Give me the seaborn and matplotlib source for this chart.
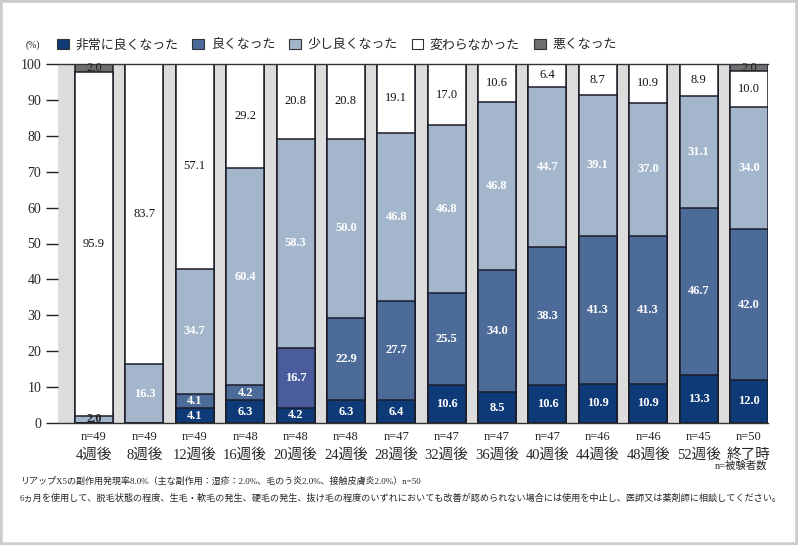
import numpy as np
import matplotlib
matplotlib.use('Agg')
import matplotlib.pyplot as plt
from matplotlib.patches import Patch, Rectangle
import seaborn as sns

sns.set_style('white')
plt.rcParams['font.family'] = ['Liberation Serif', 'Noto Sans CJK JP']

weeks = ['4週後', '8週後', '12週後', '16週後', '20週後', '24週後', '28週後',
         '32週後', '36週後', '40週後', '44週後', '48週後', '52週後', '終了時']
n_subjects = [49, 49, 49, 48, 48, 48, 47, 47, 47, 47, 46, 46, 45, 50]

categories = ['非常に良くなった', '良くなった', '少し良くなった', '変わらなかった', '悪くなった']
very_good = [0, 0, 4.1, 6.3, 4.2, 6.3, 6.4, 10.6, 8.5, 10.6, 10.9, 10.9, 13.3, 12.0]
good = [0, 0, 4.1, 4.2, 16.7, 22.9, 27.7, 25.5, 34.0, 38.3, 41.3, 41.3, 46.7, 42.0]
little_good = [2.0, 16.3, 34.7, 60.4, 58.3, 50.0, 46.8, 46.8, 46.8, 44.7, 39.1, 37.0, 31.1, 34.0]
no_change = [95.9, 83.7, 57.1, 29.2, 20.8, 20.8, 19.1, 17.0, 10.6, 6.4, 8.7, 10.9, 8.9, 10.0]
worse = [2.0, 0, 0, 0, 0, 0, 0, 0, 0, 0, 0, 0, 0, 2.0]

colors = ['#0e3a78', '#4d6b99', '#a3b6cc', '#ffffff', '#6f6f6f']
text_colors = ['white', 'white', 'white', '#111111', '#111111']
edge = '#1c1c28'

series = [very_good, good, little_good, no_change, worse]
cum = np.cumsum(np.array(series), axis=0)

fig = plt.figure(figsize=(7.98, 5.45), dpi=100)
ax = fig.add_axes([58 / 798, 1 - 423 / 545, 710 / 798, 359 / 545])
ax.set_facecolor('#dcdcdc')

# stacked bars: draw cumulative totals from top layer down
for k in range(len(series) - 1, -1, -1):
    pal = [colors[k]] * len(weeks)
    if k == 1:
        pal[weeks.index('20週後')] = '#4a5c9c'
    sns.barplot(x=weeks, y=cum[k], hue=weeks, palette=pal, legend=False,
                width=0.754, edgecolor=edge, linewidth=1.1, saturation=1,
                ax=ax)

for k, vals in enumerate(series):
    for i, v in enumerate(vals):
        if v <= 0:
            continue
        ax.text(i, cum[k][i] - v / 2, f'{v:.1f}', ha='center', va='center',
                fontsize=9, color=text_colors[k] if v > 3 else '#222222',
                fontweight='bold' if text_colors[k] == 'white' else 'normal')

ax.set_xlim(-0.714, 13.377)
ax.set_ylim(0, 100)
ax.set_yticks(range(0, 101, 10))
ax.tick_params(axis='y', length=9, width=1, color='#222222', labelsize=10, pad=3, left=True)
ax.set_xticks(range(len(weeks)))
ax.set_xticklabels(weeks, fontsize=10.5)
ax.tick_params(axis='x', length=0, pad=18)
ax.set_xlabel('')
ax.set_ylabel('')
for s in ['left', 'right']:
    ax.spines[s].set_visible(False)
for s in ['top', 'bottom']:
    ax.spines[s].set_color('#333333')
    ax.spines[s].set_linewidth(1.0)

for i, n in enumerate(n_subjects):
    ax.text(i, -0.022, f'n={n}', transform=ax.get_xaxis_transform(),
            ha='center', va='top', fontsize=9)

handles = [Patch(facecolor=c, edgecolor='#333333', linewidth=0.8) for c in colors]
fig.legend(handles, categories, loc='center left', bbox_to_anchor=(52 / 798, 1 - 45 / 545),
           ncol=5, frameon=False, fontsize=9.3, handlelength=0.9, handleheight=0.9,
           handletextpad=0.5, columnspacing=1.1, borderaxespad=0)
fig.text(33 / 798, 1 - 45 / 545, '(%)', fontsize=7, ha='center', va='center')

fig.text(767 / 798, 1 - 466 / 545, 'n=被験者数', fontsize=7.5, ha='right', va='center')
fig.text(20 / 798, 1 - 481 / 545,
         'リアップX5の副作用発現率8.0%（主な副作用：湿疹：2.0%、毛のう炎2.0%、接触皮膚炎2.0%）n=50',
         fontsize=6.5, ha='left', va='center')
fig.text(20 / 798, 1 - 498 / 545,
         '6ヵ月を使用して、脱毛状態の程度、生毛・軟毛の発生、硬毛の発生、抜け毛の程度のいずれにおいても'
         '改善が認められない場合には使用を中止し、医師又は薬剤師に相談してください。',
         fontsize=6.6, ha='left', va='center')

fig.patches.append(Rectangle((0, 0), 1, 1, transform=fig.transFigure, fill=False,
                             edgecolor='#cccccc', linewidth=4))

fig.savefig('out.png', dpi=100)
